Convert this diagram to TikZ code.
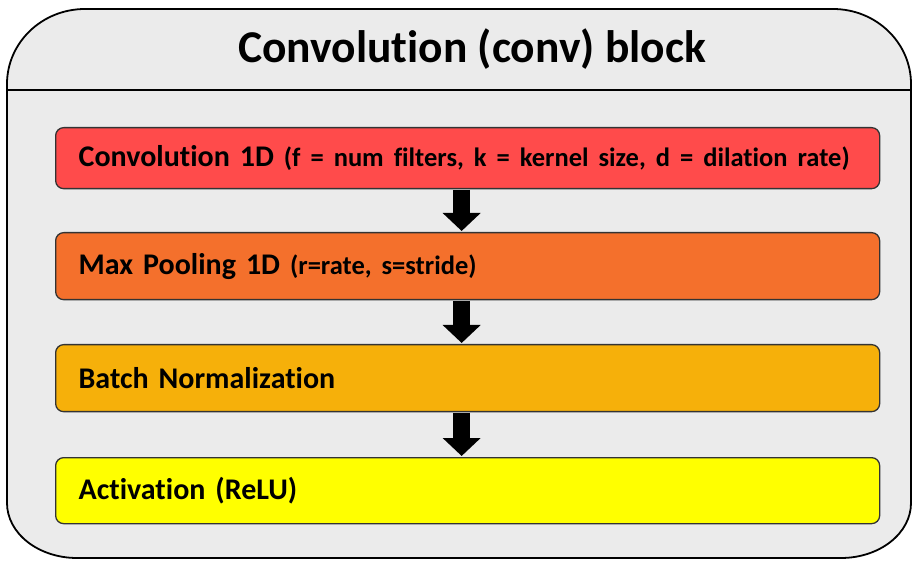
\documentclass[tikz,border=0pt]{standalone}
\usepackage{fontspec}
\setmainfont{Carlito}[Ligatures=CommonOff]
\usetikzlibrary{arrows.meta,calc}
\definecolor{bgc}{HTML}{EBEBEB}
\definecolor{c1}{HTML}{FF4B4B}
\definecolor{c2}{HTML}{F4702C}
\definecolor{c3}{HTML}{F6B00A}
\definecolor{c4}{HTML}{FFFF00}
\definecolor{edge}{HTML}{333333}
\tikzset{
  layerbox/.style={draw=edge, line width=1.3pt, rounded corners=8pt,
    minimum width=824pt, inner xsep=23pt, text width=778pt, align=left,
    font=\bfseries\fontsize{30}{34}\selectfont, anchor=north west},
  blockarrow/.style={line width=17pt, -{Triangle[width=37pt,length=18pt]}, black}
}
\newcommand{\paren}[1]{{\fontsize{26.5}{30}\selectfont #1}}
\begin{document}
\begin{tikzpicture}[x=1pt,y=1pt]
\useasboundingbox (0,0) rectangle (913,560);
% outer container
\draw[fill=bgc, line width=1.8pt]
  (85,551) -- (833,551) arc[start angle=90, end angle=0, x radius=78, y radius=75]
  -- (911,57) arc[start angle=0, end angle=-90, x radius=70, y radius=55]
  -- (77,2) arc[start angle=270, end angle=180, x radius=70, y radius=55]
  -- (7,476) arc[start angle=180, end angle=90, x radius=78, y radius=75] -- cycle;
\coordinate (hl) at (7,470);
\coordinate (hr) at (911,470);
\draw[line width=1.8pt] (hl) -- (hr);
\node[font=\bfseries\fontsize{45.5}{50}\selectfont, anchor=base] (title) at (472,497) {Convolution (conv) block};
% layers
\node[layerbox, fill=c1, minimum height=61pt] (conv) at (55,433)
  {Convolution 1D \paren{(f = num filters, k = kernel size, d = dilation rate)}};
\node[layerbox, fill=c2, minimum height=67pt] (pool) at (55,328)
  {Max Pooling 1D \paren{(r=rate, s=stride)}};
\node[layerbox, fill=c3, minimum height=67pt] (bn) at (55,216)
  {Batch Normalization};
\node[layerbox, fill=c4, minimum height=66pt] (act) at (55,103)
  {Activation (ReLU)};
% arrows
\draw[blockarrow] ($(conv.south)+(-6,-0.6)$) -- ($(pool.north)+(-6,1)$);
\draw[blockarrow] ($(pool.south)+(-6,-0.6)$) -- ($(bn.north)+(-6,1)$);
\draw[blockarrow] ($(bn.south)+(-6,-0.6)$) -- ($(act.north)+(-6,1)$);
\end{tikzpicture}
\end{document}
